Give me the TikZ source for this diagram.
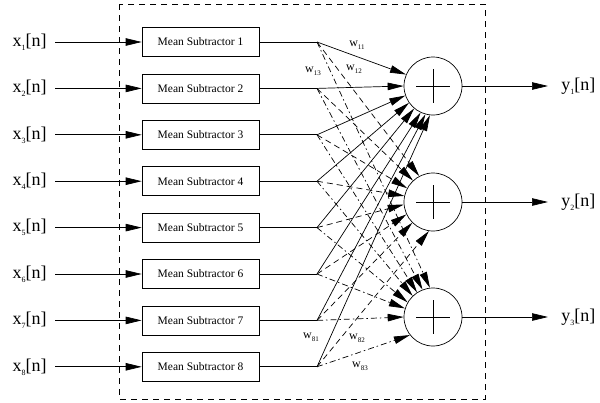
\documentclass[tikz,border=0pt]{standalone}
\usepackage{fontspec}
\setmainfont{Liberation Serif}
\usetikzlibrary{arrows.meta}
\newcommand{\sbx}[3]{\raisebox{-#1}{\fontsize{#2}{#2}\selectfont #3}}
\begin{document}
\begin{tikzpicture}[x=1pt,y=-1pt,
  line width=0.7pt,
  tip/.style={-{Triangle[length=16pt,width=7.5pt]}},
  msbox/.style={draw, minimum width=117pt, minimum height=29pt, inner sep=0pt, font=\fontsize{11.5}{12}\selectfont},
  sumnode/.style={draw, circle, minimum size=58pt, inner sep=0pt},
  inlab/.style={anchor=east, inner xsep=8pt, inner ysep=0pt, font=\fontsize{18}{18}\selectfont},
  outlab/.style={anchor=west, inner xsep=13pt, inner ysep=0pt, font=\fontsize{18}{18}\selectfont},
  wlab/.style={font=\fontsize{12}{12}\selectfont, inner sep=0pt},
  to1/.style={tip},
  to2/.style={tip, dash pattern=on 6pt off 4pt},
  to3/.style={tip, dash pattern=on 6pt off 3pt on 1.5pt off 3pt},
  border/.style={dash pattern=on 6pt off 5pt}
]
\useasboundingbox (0,0) rectangle (600,402);
\draw[border] (119,4) rectangle (485,399);
\foreach \i in {1,...,8} {
  \pgfmathsetmacro{\yy}{42+(\i-1)*46.4}
  \node[msbox] (m\i) at (200.5,\yy) {Mean Subtractor \i};
  \node[inlab] (x\i) at (55,\yy) {x\sbx{4pt}{8}{\i}[n]};
  \coordinate (f\i) at (317,\yy);
  \draw[tip] (x\i) -- (m\i);
  \draw (m\i) -- (f\i);
}
\node[sumnode] (s1) at (433,86) {};
\node[sumnode] (s2) at (433,202) {};
\node[sumnode] (s3) at (433,317) {};
\foreach \s in {s1,s2,s3} {
  \draw (\s.center) ++(-17,0) -- ++(34,0);
  \draw (\s.center) ++(0,-17) -- ++(0,34);
}
% border angles on the summing circles where each weighted line ends
\foreach \i/\a/\b/\c in {1/157/118/96, 2/180/133/111, 3/199/152/123, 4/215/168/134,
                          5/230/185/150, 6/245/205/163, 7/255/225/180, 8/264/262/218} {
  \draw[to1] (f\i) -- (s1.\a);
  \draw[to2] (f\i) -- (s2.\b);
  \draw[to3] (f\i) -- (s3.\c);
}
\node[outlab] (y1) at (548,86) {y\sbx{4pt}{8}{1}[n]};
\node[outlab] (y2) at (548,202) {y\sbx{4pt}{8}{2}[n]};
\node[outlab] (y3) at (548,317) {y\sbx{4pt}{8}{3}[n]};
\draw[tip] (s1) -- (y1);
\draw[tip] (s2) -- (y2);
\draw[tip] (s3) -- (y3);
\node[wlab] (w11) at (357,45) {w\sbx{3pt}{7}{11}};
\node[wlab] (w12) at (354,69) {w\sbx{3pt}{7}{12}};
\node[wlab] (w13) at (313,71) {w\sbx{3pt}{7}{13}};
\node[wlab] (w81) at (311,337) {w\sbx{3pt}{7}{81}};
\node[wlab] (w82) at (357,338) {w\sbx{3pt}{7}{82}};
\node[wlab] (w83) at (360,366) {w\sbx{3pt}{7}{83}};
\end{tikzpicture}
\end{document}
